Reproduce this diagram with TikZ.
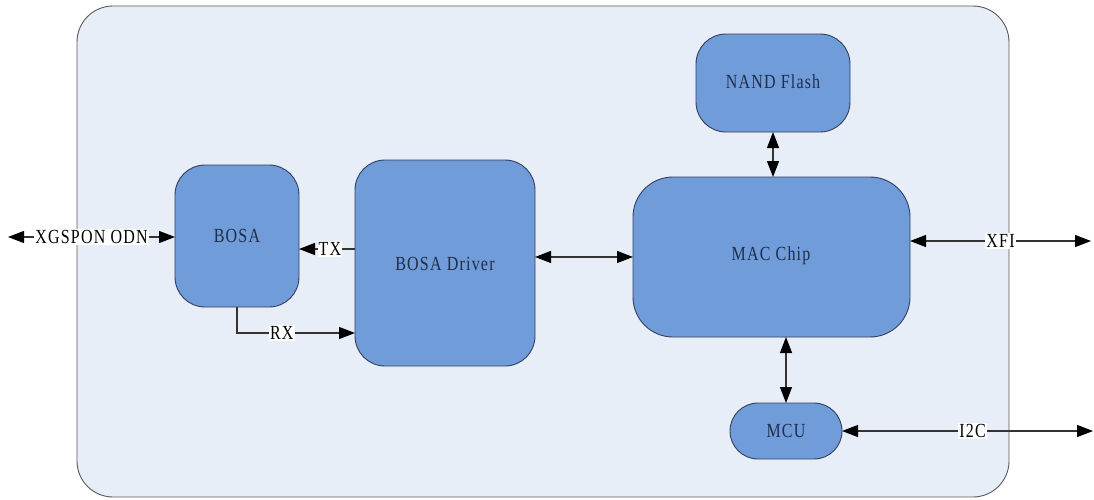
\documentclass[tikz,border=0pt]{standalone}
\usepackage{fontspec}
\usetikzlibrary{arrows.meta}
\newfontfamily\lblfont[FakeStretch=0.8,LetterSpace=6]{Liberation Serif}
\definecolor{bgc}{HTML}{E8EEF8}
\definecolor{boxc}{HTML}{709DD9}
\definecolor{boxline}{HTML}{2F3F5F}
\definecolor{txtc}{HTML}{1F2D4D}
\definecolor{linec}{HTML}{333333}
\begin{document}
\begin{tikzpicture}[x=1pt,y=-1pt,
  blk/.style={draw=boxline,line width=0.9pt,fill=boxc,rounded corners=#1},
  blk/.default=30pt,
  bt/.style={text=txtc,font=\lblfont\fontsize{20}{22}\selectfont,inner sep=0pt},
  lnk/.style={line width=1.1pt,draw=linec,{Triangle[length=16pt,width=12pt,color=black]}-{Triangle[length=16pt,width=12pt,color=black]}},
  onelnk/.style={line width=1.1pt,draw=linec,-{Triangle[length=16pt,width=12pt,color=black]}},
  lbl/.style={fill=white,inner sep=1pt,font=\lblfont\fontsize{20}{22}\selectfont,text=black}]
\useasboundingbox (0,0) rectangle (1094,499);
\draw[draw=black!65,line width=0.9pt,fill=bgc,rounded corners=36pt] (77,6) rectangle (1009,497);
% blocks
\path[blk] (175,165) rectangle (299,307);
\node[bt] (bosa) at (237,236) {BOSA};
\coordinate (bosaL) at (175,237);
\coordinate (bosaR) at (299,249);
\coordinate (bosaB) at (237,307);
\path[blk] (355,160) rectangle (535,366);
\node[bt] (drv) at (445,264) {BOSA Driver};
\coordinate (drvTX) at (355,249);
\coordinate (drvRX) at (355,333);
\coordinate (drvR) at (535,257);
\path[blk=40pt] (633,177) rectangle (910,337);
\node[bt] (mac) at (771,256) {MAC Chip};
\coordinate (macL) at (633,257);
\coordinate (macT) at (773,177);
\coordinate (macB) at (786,337);
\coordinate (macR) at (910,241);
\path[blk=30pt] (696,34) rectangle (850,132);
\node[bt] (nand) at (773,82) {NAND Flash};
\coordinate (nandB) at (773,132);
\path[blk=28pt] (730,403) rectangle (842,459);
\node[bt] (mcu) at (786,431) {MCU};
\coordinate (mcuT) at (786,403);
\coordinate (mcuR) at (842,431);
% external ends
\coordinate (odnEnd) at (8,237);
\coordinate (xfiEnd) at (1091,241);
\coordinate (i2cEnd) at (1093,431);
\coordinate (rxCorner) at (237,333);
% connectors
\draw[lnk] (odnEnd) -- node[lbl,pos=0.5]{XGSPON ODN} (bosaL);
\draw[onelnk] (drvTX) -- node[lbl,pos=0.45]{TX} (bosaR);
\draw[onelnk] (bosaB) -- (rxCorner) -- node[lbl,pos=0.38]{RX} (drvRX);
\draw[lnk] (drvR) -- (macL);
\draw[lnk] (nandB) -- (macT);
\draw[lnk] (macB) -- (mcuT);
\draw[lnk] (macR) -- node[lbl,pos=0.5]{XFI} (xfiEnd);
\draw[lnk] (mcuR) -- node[lbl,pos=0.52]{I2C} (i2cEnd);
\end{tikzpicture}
\end{document}
